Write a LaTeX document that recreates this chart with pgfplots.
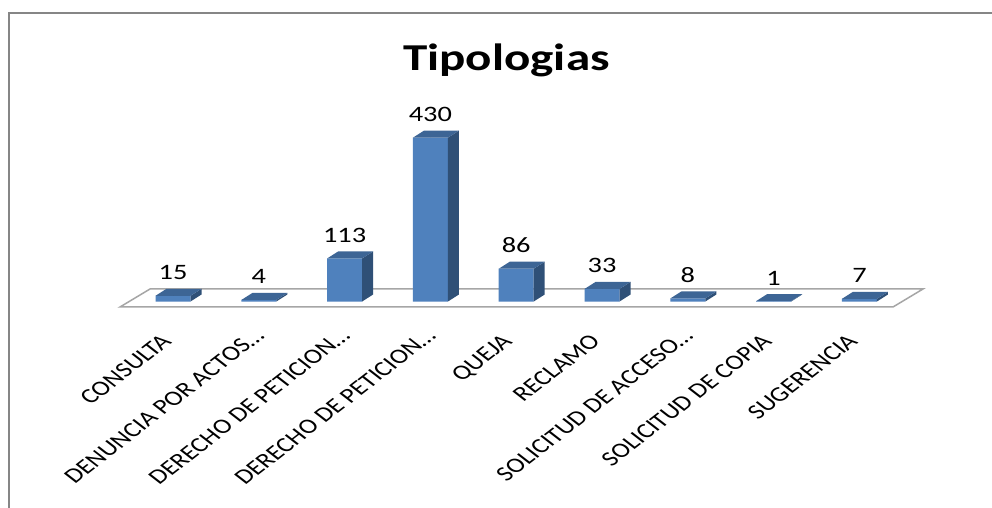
\documentclass[border=0pt]{standalone}
\usepackage{pgfplots}
\pgfplotsset{compat=1.18}
\usepackage{graphicx}
\usepackage{fontspec}
\setmainfont{Carlito}
\definecolor{barfront}{HTML}{4F81BD}
\definecolor{barside}{HTML}{2F5077}
\definecolor{bartop}{HTML}{3D6595}
\definecolor{frameg}{HTML}{868686}
\definecolor{floorg}{HTML}{A6A6A6}
% 1pt = 1 pixel of the reference, y measured from the bottom
\newcommand{\pxperunit}{0.381}
% the reference is stretched sideways, so its text is too
\newcommand{\wide}[1]{\scalebox{1.29}[1]{#1}}
\newcommand{\lbl}[1]{\scalebox{1.29}[1]{\rotatebox{45}{#1}}}
\newcommand{\lblfull}[1]{\lbl{#1\hspace{8pt}}}
\begin{document}
\begin{tikzpicture}
\useasboundingbox (0,0) rectangle (992pt,508pt);
% chart frame
\draw[frameg,line width=2.5pt] (9pt,0pt) -- (9pt,495pt) -- (992pt,495pt);
% floor
\draw[floorg,line width=1.5pt,fill=white] (120pt,201pt) -- (150pt,219pt) -- (923pt,219pt) -- (893pt,201pt) -- cycle;
\node[font=\bfseries\fontsize{38}{38}\selectfont] at (506.5pt,448pt) {\wide{Tipologias}};
\begin{axis}[
    at={(60pt,201pt)}, anchor=south west,
    scale only axis, width=880pt, height=207pt,
    xmin=-1.317, xmax=8.939,
    ymin=-14.4, ymax=528.9,
    clip=false,
    axis line style={draw=none},
    ytick=\empty,
    xtick={0,1,2,3,4,5,6,7,8},
    major tick style={draw=none},
    xticklabels={\lblfull{CONSULTA},\lbl{DENUNCIA POR ACTOS\ldots},\lbl{DERECHO DE PETICION\ldots},\lbl{DERECHO DE PETICION\ldots},\lblfull{QUEJA},\lblfull{RECLAMO},\lbl{SOLICITUD DE ACCESO\ldots},\lblfull{SOLICITUD DE COPIA},\lblfull{SUGERENCIA}},
    x tick label style={anchor=north east,font=\fontsize{21}{21}\selectfont,inner sep=0pt,yshift=-20pt,xshift=7pt},
    /pgf/number format/assume math mode=true,
]
% side and top faces, scaled from the same values
\addplot[only marks,mark=*,mark size=0pt,draw=none,scatter,
    visualization depends on={rawy \as \rawval},
    scatter/@pre marker code/.code={%
        \pgfmathsetmacro{\h}{\rawval*\pxperunit}%
        \fill[barside] (17.5pt,-\h pt) -- (28.5pt,-\h pt+7pt) -- (28.5pt,7pt) -- (17.5pt,0pt) -- cycle;%
        \fill[bartop] (-17.5pt,0pt) -- (-6.5pt,7pt) -- (28.5pt,7pt) -- (17.5pt,0pt) -- cycle;%
        \begin{scope}},
    scatter/@post marker code/.code={\end{scope}},
    ] coordinates {(0,15)(1,4)(2,113)(3,430)(4,86)(5,33)(6,8)(7,1)(8,7)};
\addplot[ybar,bar width=35pt,fill=barfront,draw=none,
    nodes near coords={\wide{\pgfmathprintnumber{\pgfplotspointmeta}}},
    nodes near coords style={font=\fontsize{22}{22}\selectfont,text=black,inner sep=0pt,anchor=base,yshift=16pt},
    ] coordinates {(0,15)(1,4)(2,113)(3,430)(4,86)(5,33)(6,8)(7,1)(8,7)};
\end{axis}
\end{tikzpicture}
\end{document}
